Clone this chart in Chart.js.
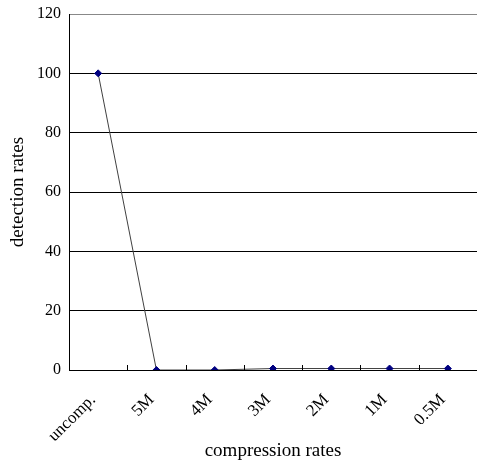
<!DOCTYPE html>
<html>
<head>
<meta charset="utf-8">
<script src="https://cdn.jsdelivr.net/npm/chart.js@4/dist/chart.umd.min.js"></script>
<style>
  html, body { margin: 0; padding: 0; background: #fff; overflow: hidden; }
  #wrap { width: 482px; height: 462px; }
</style>
</head>
<body>
<div id="wrap"><canvas id="chart"></canvas></div>
<script>
const categories = ["uncomp.", "5M", "4M", "3M", "2M", "1M", "0.5M"];
const detectionRates = [100, 0, 0, 0.5, 0.5, 0.5, 0.5];
const yTicks = [0, 20, 40, 60, 80, 100, 120];

const serif = "'Liberation Serif', 'Times New Roman', serif";

// small tick marks pointing up from the x axis, between categories
const upTicks = {
  id: "upTicks",
  afterDraw(chart) {
    const x = chart.scales.x;
    const ctx = chart.ctx;
    const y0 = chart.chartArea.bottom;
    ctx.save();
    ctx.strokeStyle = "#000";
    ctx.lineWidth = 1;
    ctx.beginPath();
    for (let i = 1; i < categories.length; i++) {
      const px = Math.round((x.getPixelForValue(i - 1) + x.getPixelForValue(i)) / 2) + 0.5;
      ctx.moveTo(px, y0);
      ctx.lineTo(px, y0 - 5);
    }
    ctx.stroke();
    ctx.restore();
  }
};

new Chart(document.getElementById("chart"), {
  type: "line",
  data: {
    labels: categories,
    datasets: [{
      data: detectionRates,
      borderColor: "#404040",
      borderWidth: 1,
      pointStyle: "rectRot",
      pointRadius: 3.5,
      pointBackgroundColor: "#000080",
      pointBorderColor: "#000080",
      tension: 0
    }]
  },
  options: {
    responsive: true,
    maintainAspectRatio: false,
    animation: false,
    layout: { padding: { top: 14, right: 0, left: 0, bottom: 0 } },
    plugins: { legend: { display: false }, tooltip: { enabled: false } },
    scales: {
      x: {
        offset: true,
        grid: { display: false },
        border: { display: true, color: "#000", width: 1 },
        ticks: { color: "#000", font: { family: serif, size: 17 }, maxRotation: 45, minRotation: 45, padding: 12, labelOffset: -5 },
        title: { display: true, text: "compression rates", color: "#000", font: { family: serif, size: 19 }, padding: { top: 0, bottom: 0 } },
        afterFit: (s) => { s.height = 92; s.paddingRight = 0; }
      },
      y: {
        min: 0,
        max: 120,
        afterBuildTicks: (axis) => { axis.ticks = yTicks.map(v => ({ value: v })); },
        grid: { color: (c) => (c.tick && c.tick.value === 120 ? "#888" : "#000"), drawTicks: false },
        border: { display: true, color: "#000", width: 1 },
        ticks: { color: "#000", font: { family: serif, size: 16 }, padding: 8 },
        title: { display: true, text: "detection rates", color: "#000", font: { family: serif, size: 19 }, padding: { top: 7, bottom: 8 } },
        afterFit: (s) => { s.width = 69; s.paddingTop = 0; }
      }
    }
  },
  plugins: [upTicks]
});
</script>
</body>
</html>
